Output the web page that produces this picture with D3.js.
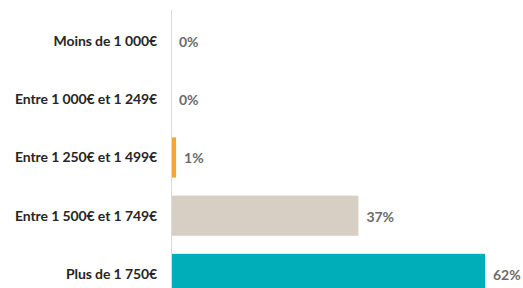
<!DOCTYPE html>
<html>
<head>
<meta charset="utf-8">
<script src="https://cdn.jsdelivr.net/npm/d3@7"></script>
<style>
  body { margin: 0; background: #fff; }
</style>
</head>
<body>
<script>
// Data
var categories = ["Moins de 1 000€", "Entre 1 000€ et 1 249€", "Entre 1 250€ et 1 499€", "Entre 1 500€ et 1 749€", "Plus de 1 750€"];
var values = [0, 0, 1, 37, 62];
var colors = ["#00aeb9", "#00aeb9", "#f7a631", "#d7cfc4", "#00aeb9"];

var width = 523, height = 288;

var svg = d3.select("body")
  .append("svg")
    .attr("width", width)
    .attr("height", height);

var x = d3.scaleLinear()
  .domain([0, 62])
  .range([171, 485]);

var y = d3.scaleBand()
  .domain(categories)
  .range([12, 303])
  .paddingInner(0.31)
  .paddingOuter(0.155);

// bars
svg.selectAll("rect.bar")
  .data(values)
  .enter()
  .append("rect")
    .attr("class", "bar")
    .attr("x", x(0))
    .attr("y", function (d, i) { return y(categories[i]); })
    .attr("width", function (d) { return x(d) - x(0); })
    .attr("height", y.bandwidth())
    .style("fill", function (d, i) { return colors[i]; });

// axis line
svg.append("line")
  .attr("x1", x(0) + 0.5)
  .attr("x2", x(0) + 0.5)
  .attr("y1", 10)
  .attr("y2", height)
  .style("stroke", "#d9d9d9")
  .style("stroke-width", 1);

// category labels
svg.selectAll("text.cat")
  .data(categories)
  .enter()
  .append("text")
    .attr("class", "cat")
    .attr("x", 157)
    .attr("y", function (d) { return y(d) + y.bandwidth() / 2; })
    .attr("dy", "0.35em")
    .attr("text-anchor", "end")
    .style("font-family", "Lato, sans-serif")
    .style("font-weight", "bold")
    .style("font-size", "14px")
    .style("letter-spacing", "-0.1px")
    .style("fill", "#262626")
    .text(function (d) { return d; });

// value labels
svg.selectAll("text.val")
  .data(values)
  .enter()
  .append("text")
    .attr("class", "val")
    .attr("x", function (d) { return x(d) + 8; })
    .attr("y", function (d, i) { return y(categories[i]) + y.bandwidth() / 2 + 1; })
    .attr("dy", "0.35em")
    .style("font-family", "Lato, sans-serif")
    .style("font-weight", "bold")
    .style("font-size", "14px")
    .style("fill", "#6b6b6b")
    .text(function (d) { return d + "%"; });
</script>
</body>
</html>
